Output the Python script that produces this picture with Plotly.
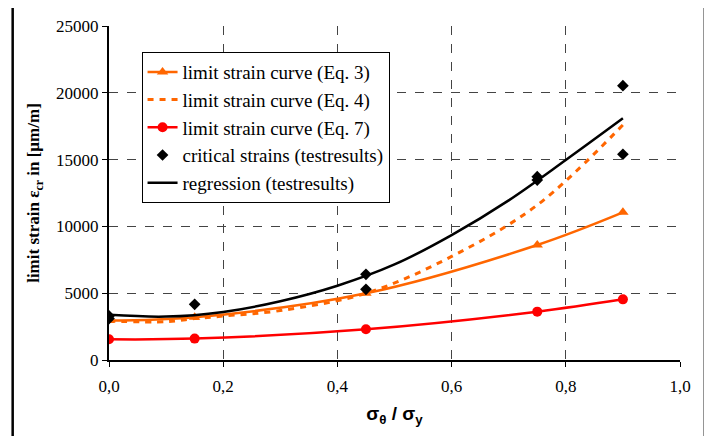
import plotly.graph_objects as go

# ---- data ----
x_pts = [0.0, 0.15, 0.45, 0.75, 0.9]
eq3 = [2950, 3200, 4990, 8610, 11050]
eq7 = [1550, 1600, 2300, 3620, 4540]

eq4_x = [0.0, 0.1, 0.15, 0.2, 0.3, 0.45, 0.6, 0.75, 0.9]
eq4 = [2920, 2870, 3100, 3290, 3700, 4990, 7750, 11600, 17600]

crit_x = [0.0, 0.0, 0.15, 0.45, 0.45, 0.75, 0.75, 0.9, 0.9]
crit_y = [3300, 3100, 4170, 6410, 5290, 13720, 13470, 20530, 15400]

reg_x = [0.0, 0.1, 0.2, 0.3, 0.4, 0.5, 0.6, 0.7, 0.8, 0.9]
reg_y = [3380, 3250, 3600, 4400, 5560, 7150, 9350, 11950, 14970, 18090]

x_ticks = [0.0, 0.2, 0.4, 0.6, 0.8, 1.0]
y_ticks = [0, 5000, 10000, 15000, 20000, 25000]

ORANGE = "#FF6600"
RED = "#FF0000"
SERIF = "Liberation Serif, Times New Roman, serif"
SANS = "Liberation Sans, Arial, sans-serif"

fig = go.Figure()
fig.add_trace(go.Scatter(x=x_pts, y=eq3, name="limit strain curve (Eq. 3)",
                         mode="lines+markers", line=dict(color=ORANGE, width=2.5, shape="spline"),
                         marker=dict(symbol="triangle-up", size=10, color=ORANGE)))
fig.add_trace(go.Scatter(x=eq4_x, y=eq4, name="limit strain curve (Eq. 4)",
                         mode="lines", line=dict(color=ORANGE, width=3, dash="6px,6px", shape="spline")))
fig.add_trace(go.Scatter(x=x_pts, y=eq7, name="limit strain curve (Eq. 7)",
                         mode="lines+markers", line=dict(color=RED, width=2.5, shape="spline"),
                         marker=dict(symbol="circle", size=10, color=RED)))
fig.add_trace(go.Scatter(x=crit_x, y=crit_y, name="critical strains (testresults)",
                         mode="markers", marker=dict(symbol="diamond", size=9, color="black")))
fig.add_trace(go.Scatter(x=reg_x, y=reg_y, name="regression (testresults)",
                         mode="lines", line=dict(color="black", width=2.5, shape="spline")))

# the page body adds an 8 px offset, so margins compensate for it
fig.update_layout(
    width=712, height=436,
    margin=dict(l=101, r=40, t=18, b=84, autoexpand=False),
    paper_bgcolor="white", plot_bgcolor="white",
    separators=",.",
    font=dict(family=SERIF, size=17, color="black"),
    showlegend=True,
    legend=dict(x=0.057, y=0.922, xanchor="left", yanchor="top",
                bgcolor="white", bordercolor="black", borderwidth=1,
                font=dict(family=SERIF, size=19), itemwidth=30,
                tracegroupgap=0),
    xaxis=dict(range=[0, 1.0], tickvals=x_ticks, tickformat=".1f",
               showgrid=True, gridcolor="#444444", griddash="dash", gridwidth=1,
               showline=True, linecolor="black", linewidth=2,
               ticks="outside", ticklen=5, tickcolor="black",
               tickfont=dict(family=SERIF, size=17),
               ticklabelstandoff=5, zeroline=False,
               title=dict(text="<b>σ<sub>θ</sub> / σ<sub>y</sub></b>",
                          font=dict(family=SANS, size=19), standoff=11)),
    yaxis=dict(range=[0, 25000], tickvals=y_ticks, tickformat="d",
               ticksuffix="\u2004",
               showgrid=True, gridcolor="#444444", griddash="dash", gridwidth=1,
               showline=True, linecolor="black", linewidth=2,
               ticks="outside", ticklen=5, tickcolor="black",
               tickfont=dict(family=SERIF, size=17),
               zeroline=False,
               title=dict(text="<b>limit strain ε<sub>cr</sub> in [µm/m]</b>",
                          font=dict(family=SERIF, size=17), standoff=12)),
)

# outer frame of the figure
fig.add_shape(type="rect", xref="paper", yref="paper",
              x0=-0.1687, x1=1.0435, y0=-0.35, y1=1.0644,
              line=dict(color="black", width=2.5), fillcolor="rgba(0,0,0,0)", layer="above")

fig.write_html("out.html")
